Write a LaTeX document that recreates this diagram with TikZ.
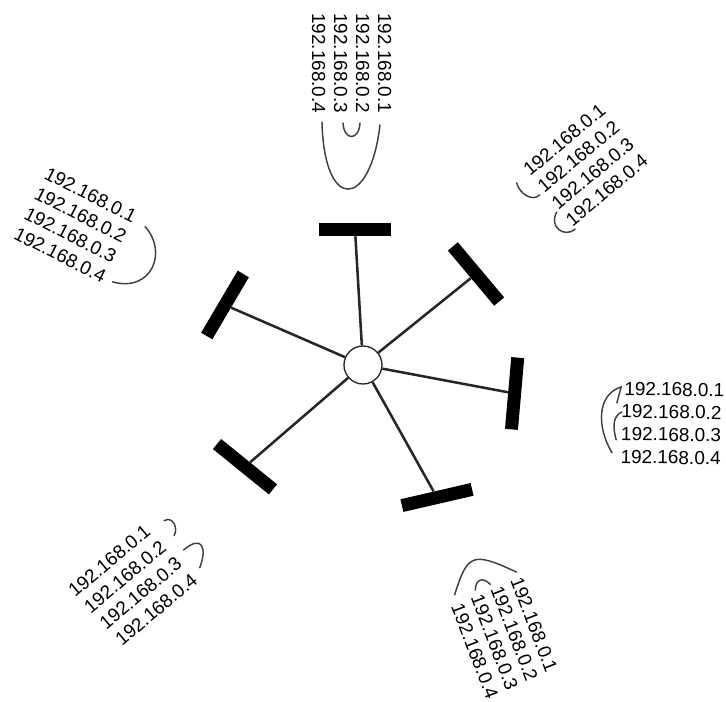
\documentclass[tikz,border=0pt]{standalone}
\usepackage{fontspec}
\setmainfont{Liberation Sans}
\begin{document}
\begin{tikzpicture}[x=0.75pt, y=0.75pt,
  ip/.style={font=\fontsize{14.2}{16}\selectfont, inner sep=0pt, anchor=base west},
  bar/.style={fill=black, minimum width=54pt, minimum height=9.75pt, inner sep=0pt},
  hub/.style={circle, draw=black!85, line width=1pt, fill=white, minimum size=28.5pt, inner sep=0pt},
  spoke/.style={draw=black!85, line width=1.9pt},
  bracket/.style={draw=black!75, line width=1.1pt, line cap=round}]
  \useasboundingbox (0,0) rectangle (726,-702);

  % Hub with its six bars
  \node[hub] (hub) at (363,-365) {};
  \node[bar] (bt) at (355,-229.5) {};
  \node[bar, rotate=-50] (bur) at (476,-274) {};
  \node[bar, rotate=85] (br) at (514.6,-393.5) {};
  \node[bar, rotate=13] (blr) at (437,-497.5) {};
  \node[bar, rotate=-39] (bll) at (245,-466.7) {};
  \node[bar, rotate=59.5] (bl) at (225,-305) {};
  \foreach \b in {bt,bur,br,blr,bll,bl}
    \draw[spoke] (hub) -- (\b);

  % Top address list
  \begin{scope}[shift={(378,-13)}, rotate=-90, transform shape]
    \foreach \i in {1,...,4}
      \node[ip] (t\i) at (0,{-(\i-1)*22}) {192.168.0.\i};
    \draw[bracket] (t4.base west) ++(109,10) .. controls +(90,2) and +(85,-10) .. ++(3,58);
    \draw[bracket] (t3.base west) ++(110,9) .. controls +(18,1) and +(18,-1) .. ++(0,17);
  \end{scope}

  % Upper right address list
  \begin{scope}[shift={(530,-177)}, rotate=40, transform shape]
    \foreach \i in {1,...,4}
      \node[ip] (ur\i) at (0,{-(\i-1)*22}) {192.168.0.\i};
    \draw[bracket] (ur1.base west) ++(-14,4) .. controls +(-5,-10) and +(-10,-1) .. ++(10,-24);
    \draw[bracket] (ur3.base west) ++(-2,0) .. controls +(-16,-6) and +(-14,0) .. ++(3,-25);
  \end{scope}

  % Left address list
  \begin{scope}[shift={(43,-178)}, rotate=-27, transform shape]
    \foreach \i in {1,...,4}
      \node[ip] (l\i) at (0,{-(\i-1)*22.5}) {192.168.0.\i};
    \draw[bracket] (l1.base west) ++(113,3) .. controls +(32,-12) and +(40,8) .. ++(-4,-64);
  \end{scope}

  % Right address list
  \begin{scope}[shift={(624,-395)}, rotate=-1, transform shape]
    \foreach \i in {1,...,4}
      \node[ip] (r\i) at ({-min(\i-1,1)*2.5},{-(\i-1)*22.7}) {192.168.0.\i};
    \draw[bracket] (r1.base west) ++(-7,-8) -- ++(4,16) .. controls +(-24,-8) and +(-16,26) .. ++(-8,-66);
    \draw[bracket] (r1.base west) ++(-2,-17) .. controls +(-10,-5) and +(-3,10) .. ++(-5,-28);
  \end{scope}

  % Lower left address list
  \begin{scope}[shift={(75,-598)}, rotate=40, transform shape]
    \foreach \i in {1,...,4}
      \node[ip] (ll\i) at ({(\i-1)*1.5},{-(\i-1)*22.5}) {192.168.0.\i};
    \draw[bracket] (ll1.base west) ++(118,2) .. controls +(10,-2) and +(8,3) .. ++(-2,-18);
    \draw[bracket] (ll1.base west) ++(114,-33) .. controls +(25,0) and +(18,10) .. ++(1,-24);
  \end{scope}

  % Lower right address list
  \begin{scope}[shift={(510,-580)}, rotate=-69, transform shape]
    \foreach \i in {1,...,4}
      \node[ip] (lr\i) at ({(\i-1)*1.2},{-(\i-1)*21.6}) {192.168.0.\i};
    \draw[bracket] (lr1.base west) ++(-6,-57) .. controls +(-34,27) and +(-35,-34) .. ++(1,66);
    \draw[bracket] (lr1.base west) ++(-3,-36) .. controls +(-10,4) and +(-10,-4) .. ++(0,16);
  \end{scope}
\end{tikzpicture}
\end{document}
